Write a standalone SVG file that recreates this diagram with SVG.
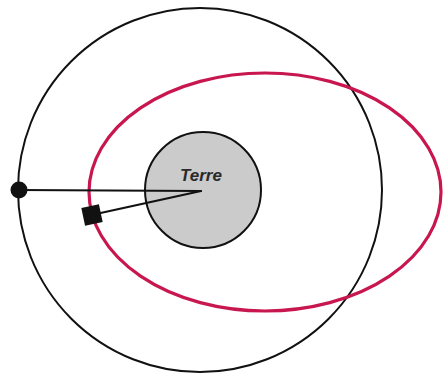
<svg xmlns="http://www.w3.org/2000/svg" width="443" height="374" viewBox="0 0 443 374">
<style>
.orbit{fill:none;stroke:#111;stroke-width:2}
.red{fill:none;stroke:#c8164f;stroke-width:3.2}
.ray{stroke:#111;stroke-width:2.2;stroke-linecap:round}
.label{font-family:"Liberation Sans",Arial,sans-serif;font-style:italic;font-weight:bold;font-size:17px;fill:#2a2a2a}
</style>
<rect width="443" height="374" fill="#fff"/>
<g id="geo-orbit"><circle class="orbit" cx="200" cy="190" r="182"/></g>
<g id="transfer-orbit"><ellipse class="red" cx="265" cy="192" rx="176" ry="119"/></g>
<g id="earth">
<circle cx="203" cy="190" r="58" fill="#cbcbcb" stroke="#111" stroke-width="2"/>
<text class="label" x="201" y="181" text-anchor="middle">Terre</text>
</g>
<g id="connectors">
<line class="ray" x1="19" y1="190" x2="201" y2="191"/>
<line class="ray" x1="96" y1="214" x2="201" y2="191"/>
</g>
<g id="satellite"><circle cx="19" cy="190" r="8.5" fill="#111"/></g>
<g id="probe"><rect x="83" y="206" width="18" height="18" fill="#111" transform="rotate(-12 92 215)"/></g>
</svg>
